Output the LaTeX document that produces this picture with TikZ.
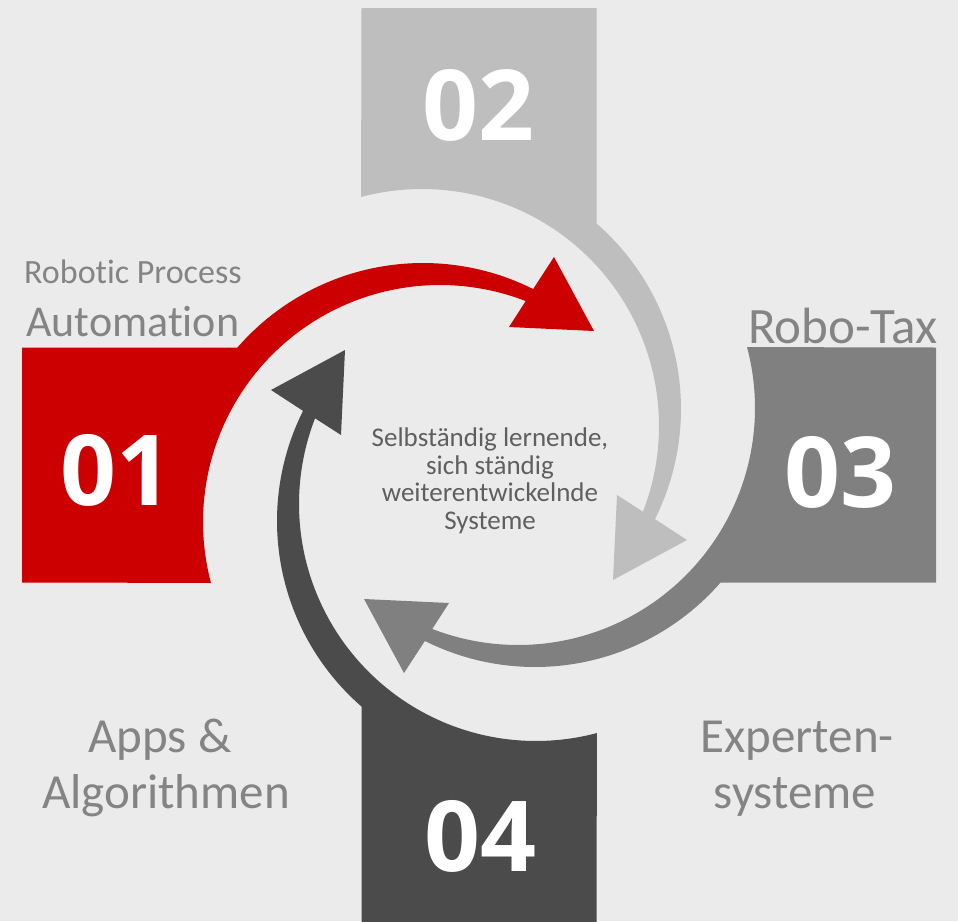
\documentclass[tikz,border=0pt]{standalone}
\usepackage{fontspec}
\setmainfont{Carlito}[Ligatures=CommonOff]
\newfontfamily\numfont{Open Sans}
\newcommand{\bandshape}{(-457,-117.5) -- (-241.6,-117.5)
  -- plot[domain=-139:-63.4,samples=80] ({-56+246*cos(\x)},{44+246*sin(\x)})
  -- (75,-208) -- (115,-134) -- (30,-138)
  -- plot[domain=-68.8:-194.9,samples=100] ({-39+237*cos(\x)},{57+237*sin(\x)})
  -- (-457,117.5) -- cycle}
\begin{document}
\begin{tikzpicture}[x=1pt,y=-1pt]
\definecolor{bg}{RGB}{235,235,235}
\definecolor{cred}{RGB}{204,0,0}
\definecolor{clight}{RGB}{190,190,190}
\definecolor{cmid}{RGB}{128,128,128}
\definecolor{cdark}{RGB}{75,75,75}
\definecolor{lblgray}{RGB}{132,132,132}
\definecolor{txtgray}{RGB}{95,95,95}
\tikzset{
  numtext/.style={text=white, inner sep=0pt, font=\numfont\bfseries\fontsize{98}{98}\selectfont},
  lbl/.style={text=lblgray, inner sep=0pt, font=\fontsize{49}{52}\selectfont},
  ctext/.style={text=txtgray, inner sep=0pt, align=center, font=\fontsize{27}{27.5}\selectfont},
  bandscope/.style={shift={(479,465)}, rotate=#1}
}
\fill[bg] (0,0) rectangle (958,921);
\useasboundingbox (0,0) rectangle (958,921);
% four boxes with their curved arrows
\begin{scope}[bandscope=0]
  \fill[cred] \bandshape;
\end{scope}
\begin{scope}[bandscope=-90]
  \fill[clight] \bandshape;
\end{scope}
\begin{scope}[bandscope=-180]
  \fill[cmid] \bandshape;
\end{scope}
\begin{scope}[bandscope=-270]
  \fill[cdark] \bandshape;
\end{scope}
% numbers
\node[numtext] (n01) at (116,470) {01};
\node[numtext] (n02) at (478,105) {02};
\node[numtext] (n03) at (840,472) {03};
\node[numtext] (n04) at (480,836) {04};
% labels
\node[lbl, anchor=base west, font=\fontsize{34}{36}\selectfont] (l1a) at (24,283) {Robotic Process};
\node[lbl, anchor=base west, font=\fontsize{44}{46}\selectfont] (l1b) at (26,336) {Automation};
\node[lbl, anchor=base east, font=\fontsize{51}{53}\selectfont] (l3) at (938,343) {Robo-Tax};
\node[lbl, anchor=base] (l4a) at (160,752) {Apps \&};
\node[lbl, anchor=base] (l4b) at (166,808) {Algorithmen};
\node[lbl, anchor=base] (l5a) at (797,752) {Experten-};
\node[lbl, anchor=base] (l5b) at (795,808) {systeme};
% centre text
\node[ctext] (centre) at (490,481) {Selbständig lernende,\\sich ständig\\weiterentwickelnde\\Systeme};
\end{tikzpicture}
\end{document}
